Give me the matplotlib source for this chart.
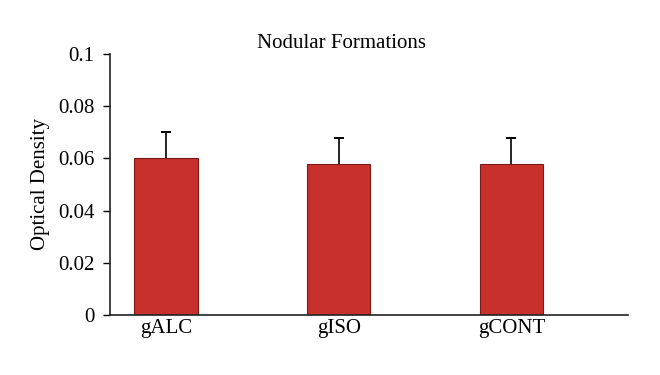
import matplotlib
matplotlib.use("Agg")
import matplotlib.pyplot as plt

categories = ["gALC", "gISO", "gCONT"]
values = [0.060, 0.058, 0.058]
errors = [0.010, 0.010, 0.010]
yticks = [0, 0.02, 0.04, 0.06, 0.08, 0.1]
ytick_labels = ["0", "0.02", "0.04", "0.06", "0.08", "0.1"]

plt.rcParams['font.family'] = ['Liberation Serif', 'DejaVu Serif']

fig = plt.figure(figsize=(6.6, 3.75), dpi=100)
ax = fig.add_axes([0.1667, 0.16, 0.7848, 0.696])

x = list(range(len(categories)))
tops = [v + e for v, e in zip(values, errors)]
ax.bar(x, values, width=0.365, color="#C8302C", edgecolor="#7a1a16", linewidth=0.8, zorder=2)
ax.vlines(x, values, tops, color="black", linewidth=1.2, zorder=1)
ax.plot(x, tops, linestyle="none", marker="_", markersize=7, markeredgewidth=1.4,
        color="black", zorder=3)

ax.set_xlim(-0.324, 2.675)
ax.set_ylim(0, 0.1)
ax.set_yticks(yticks)
ax.set_yticklabels(ytick_labels, fontsize=15)
ax.set_xticks(x)
ax.set_xticklabels(categories, fontsize=15)
ax.tick_params(axis='x', length=0, pad=3)
ax.tick_params(axis='y', direction='out', length=5, width=1, pad=6)
for s in ["top", "right"]:
    ax.spines[s].set_visible(False)
for s in ["left", "bottom"]:
    ax.spines[s].set_linewidth(1.2)
    ax.spines[s].set_color("#222222")
ax.set_ylabel("Optical Density", fontsize=15, labelpad=6)
fig.text(0.5167, 0.885, "Nodular Formations", ha="center", va="center", fontsize=15)

fig.savefig("out.png", dpi=100)
